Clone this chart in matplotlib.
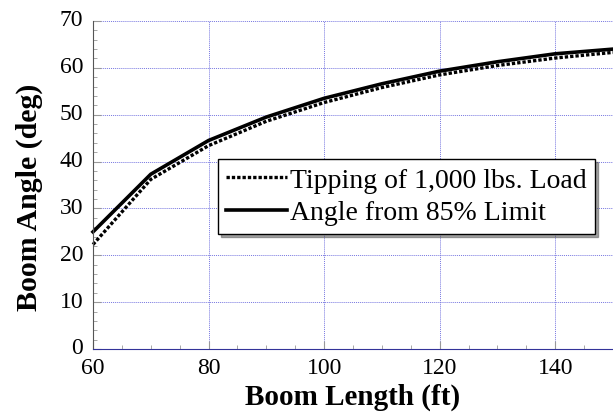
import numpy as np
import matplotlib
matplotlib.use("Agg")
import matplotlib.pyplot as plt
import matplotlib.transforms as mtransforms
from matplotlib.ticker import MultipleLocator

plt.rcParams['font.family'] = ['Liberation Serif', 'DejaVu Serif']

# boom length (ft)
boom_length = [60, 70, 80, 90, 100, 110, 120, 130, 140, 150]
# angle to tip 1,000 lbs load (deg)
tipping_angle = [22.3, 36.2, 43.4, 48.6, 52.6, 55.8, 58.5, 60.5, 62.1, 63.3]
# angle from 85% limit (deg)
limit_angle = [25.0, 37.3, 44.5, 49.5, 53.5, 56.6, 59.3, 61.3, 63.0, 64.0]

fig = plt.figure(figsize=(6.13, 4.14), dpi=100)
ax = fig.add_axes([93/613, 64/414, 520/613, 328/414])

l1, = ax.plot(boom_length, tipping_angle, color="black", lw=2.4, linestyle=(0, (1, 0.6)),
              label="Tipping of 1,000 lbs. Load", clip_on=False)
l2, = ax.plot(boom_length, limit_angle, color="black", lw=2.6,
              label="Angle from 85% Limit", clip_on=False)

ax.set_xlim(60, 150)
ax.set_ylim(0, 70)
ax.xaxis.set_major_locator(MultipleLocator(20))
ax.xaxis.set_minor_locator(MultipleLocator(5))
ax.yaxis.set_major_locator(MultipleLocator(10))
ax.yaxis.set_minor_locator(MultipleLocator(2))
ax.tick_params(which="both", direction="in", color="#999999", labelsize=17)
ax.tick_params(which="major", length=6)
ax.tick_params(which="minor", length=3)
ax.tick_params(axis="x", pad=6)
ax.tick_params(axis="y", pad=7)

# y tick labels sit a little above their grid lines
shift = mtransforms.ScaledTranslation(0, 3.5/100, fig.dpi_scale_trans)
for lab in ax.get_yticklabels():
    lab.set_transform(lab.get_transform() + shift)

ax.grid(True, which="major", color="#7777e0", linestyle=(0, (1, 1)), lw=0.7)
ax.spines["top"].set_visible(False)
ax.spines["right"].set_visible(False)
ax.spines["left"].set_color("#555555")
ax.spines["bottom"].set_color("#333399")

ax.set_xlabel("Boom Length (ft)", fontsize=21, fontweight="bold", labelpad=3)
fig.text(29/613, 1 - 197/414, "Boom Angle (deg)", fontsize=21.5, fontweight="bold",
         rotation=90, ha="center", va="center")

leg = ax.legend(handles=[l1, l2], loc="upper left", bbox_to_anchor=(125/520, 1 - 138/328),
                fontsize=20, fancybox=False, shadow=True, framealpha=1,
                edgecolor="black", handlelength=2.2, handletextpad=0.1,
                borderpad=0.3, labelspacing=0.26, borderaxespad=0)
leg.get_frame().set_linewidth(1.0)

fig.savefig("out.png", dpi=100)
